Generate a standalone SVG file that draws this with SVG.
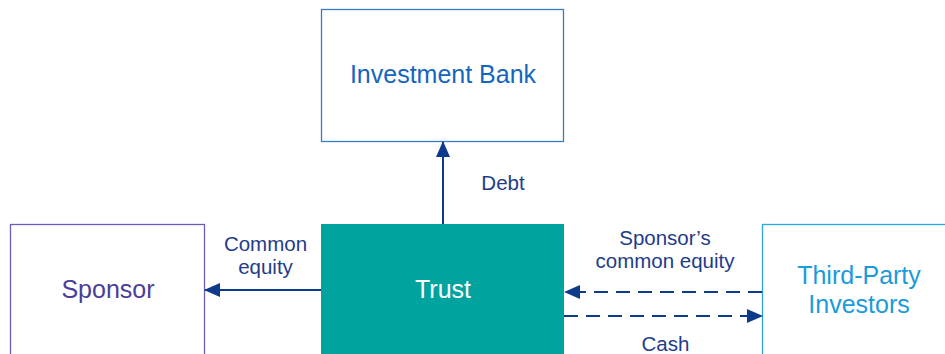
<svg xmlns="http://www.w3.org/2000/svg" width="945" height="354" viewBox="0 0 945 354">
<defs>
<marker id="ah2" markerWidth="16" markerHeight="14" refX="15" refY="7" orient="auto" markerUnits="userSpaceOnUse" viewBox="0 0 16 14">
<path d="M0,0 L16,7 L0,14 Z" fill="#0E3A8C"/>
</marker>
<style>
text{font-family:"Liberation Sans",Arial,sans-serif;text-anchor:middle}
.lbl{font-size:20.5px;fill:#1E3C8A}
.node{font-size:25px}
.con{stroke:#0E3A8C;stroke-width:2;fill:none}
.dash{stroke-dasharray:14 8}
</style>
</defs>
<rect width="945" height="354" fill="#ffffff"/>
<g id="investment-bank">
<rect x="321.5" y="9.5" width="242" height="132" fill="#fff" stroke="#3A7CC4" stroke-width="1.3"/>
<text class="node" x="443" y="83" fill="#1565C0">Investment Bank</text>
</g>
<g id="trust">
<rect x="321" y="224" width="243" height="140" fill="#00A39E"/>
<text class="node" x="443" y="297.5" fill="#ffffff">Trust</text>
</g>
<g id="sponsor">
<rect x="10.5" y="224.5" width="194" height="140" fill="#fff" stroke="#6A5FB8" stroke-width="1.3"/>
<text class="node" x="108" y="298" fill="#4B3D9A">Sponsor</text>
</g>
<g id="third-party-investors">
<rect x="762.5" y="224.5" width="200" height="140" fill="#fff" stroke="#2AA5E0" stroke-width="1.3"/>
<text class="node" x="859" y="284" fill="#1A9BDB">Third-Party</text>
<text class="node" x="859" y="313" fill="#1A9BDB">Investors</text>
</g>
<g id="connectors">
<line class="con" x1="443" y1="224" x2="443" y2="142" marker-end="url(#ah2)"/>
<line class="con" x1="321" y1="290" x2="205" y2="290" marker-end="url(#ah2)"/>
<line class="con dash" x1="762" y1="292" x2="565" y2="292" marker-end="url(#ah2)"/>
<line class="con dash" x1="564" y1="316" x2="762" y2="316" marker-end="url(#ah2)"/>
</g>
<g id="labels">
<text class="lbl" x="503" y="190">Debt</text>
<text class="lbl" x="265.5" y="251">Common</text>
<text class="lbl" x="265.5" y="274">equity</text>
<text class="lbl" x="665" y="244.5">Sponsor’s</text>
<text class="lbl" x="665" y="268">common equity</text>
<text class="lbl" x="665.5" y="351">Cash</text>
</g>
</svg>
